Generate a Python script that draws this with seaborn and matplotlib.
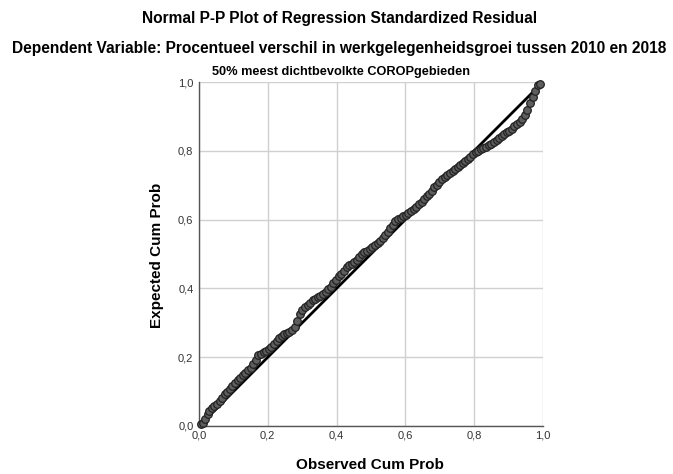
import matplotlib
matplotlib.use("Agg")
import matplotlib.pyplot as plt
import seaborn as sns
import pandas as pd
from matplotlib.ticker import FuncFormatter

observed = [0.005, 0.012, 0.018, 0.025, 0.030, 0.037, 0.045, 0.052, 0.060, 0.068,
            0.075, 0.082, 0.090, 0.097, 0.105, 0.112, 0.120, 0.128, 0.135, 0.143,
            0.150, 0.158, 0.165, 0.172, 0.180, 0.188, 0.195, 0.203, 0.210, 0.218,
            0.226, 0.233, 0.241, 0.248, 0.256, 0.263, 0.271, 0.278, 0.286, 0.293,
            0.300, 0.308, 0.316, 0.323, 0.331, 0.338, 0.346, 0.353, 0.361, 0.368,
            0.376, 0.383, 0.391, 0.398, 0.406, 0.414, 0.421, 0.429, 0.436, 0.444,
            0.451, 0.459, 0.466, 0.474, 0.481, 0.489, 0.496, 0.504, 0.511, 0.519,
            0.526, 0.534, 0.541, 0.549, 0.556, 0.564, 0.571, 0.579, 0.586, 0.594,
            0.601, 0.609, 0.617, 0.624, 0.632, 0.639, 0.647, 0.654, 0.662, 0.669,
            0.677, 0.684, 0.692, 0.699, 0.707, 0.714, 0.722, 0.729, 0.737, 0.744,
            0.752, 0.759, 0.767, 0.774, 0.782, 0.789, 0.797, 0.805, 0.812, 0.820,
            0.827, 0.835, 0.842, 0.850, 0.857, 0.865, 0.872, 0.880, 0.887, 0.895,
            0.902, 0.910, 0.917, 0.925, 0.932, 0.940, 0.947, 0.955, 0.962, 0.970,
            0.977, 0.985, 0.992]
expected = [0.005, 0.010, 0.020, 0.035, 0.045, 0.052, 0.058, 0.065, 0.072, 0.082,
            0.092, 0.100, 0.108, 0.115, 0.125, 0.133, 0.140, 0.148, 0.155, 0.162,
            0.170, 0.180, 0.192, 0.205, 0.210, 0.215, 0.218, 0.223, 0.230, 0.238,
            0.248, 0.256, 0.262, 0.266, 0.270, 0.274, 0.280, 0.288, 0.305, 0.325,
            0.338, 0.346, 0.352, 0.358, 0.365, 0.370, 0.374, 0.378, 0.385, 0.390,
            0.398, 0.405, 0.415, 0.425, 0.435, 0.443, 0.452, 0.462, 0.468, 0.472,
            0.476, 0.482, 0.490, 0.500, 0.505, 0.510, 0.515, 0.520, 0.526, 0.532,
            0.538, 0.546, 0.555, 0.565, 0.575, 0.585, 0.595, 0.602, 0.606, 0.610,
            0.614, 0.620, 0.624, 0.630, 0.636, 0.644, 0.652, 0.660, 0.668, 0.675,
            0.684, 0.694, 0.702, 0.710, 0.718, 0.724, 0.730, 0.736, 0.742, 0.748,
            0.753, 0.758, 0.764, 0.770, 0.776, 0.783, 0.790, 0.796, 0.800, 0.804,
            0.808, 0.812, 0.816, 0.820, 0.826, 0.832, 0.838, 0.843, 0.848, 0.854,
            0.858, 0.864, 0.872, 0.878, 0.884, 0.892, 0.905, 0.920, 0.940, 0.955,
            0.975, 0.990, 0.995]
ref_line = [0.0, 1.0]
ticks = [0.0, 0.2, 0.4, 0.6, 0.8, 1.0]

title1 = "Normal P-P Plot of Regression Standardized Residual"
title2 = "Dependent Variable: Procentueel verschil in werkgelegenheidsgroei tussen 2010 en 2018"
subtitle = "50% meest dichtbevolkte COROPgebieden"
xlabel = "Observed Cum Prob"
ylabel = "Expected Cum Prob"

sns.set_theme(style="white")
plt.rcParams['font.family'] = ['Liberation Sans', 'DejaVu Sans']
plt.rcParams['text.color'] = 'black'

fig = plt.figure(figsize=(6.73, 4.74), dpi=100)
ax = fig.add_axes([0.2957, 0.1013, 0.5111, 0.7257])

df = pd.DataFrame({"obs": observed, "exp": expected})
line_df = pd.DataFrame({"x": ref_line, "y": ref_line})

sns.lineplot(data=line_df, x="x", y="y", ax=ax, color="black", linewidth=2.0, zorder=3)
sns.scatterplot(data=df, x="obs", y="exp", ax=ax, s=30, color="#5e5e5e",
                edgecolor="#222222", linewidth=0.9, zorder=4, clip_on=False)

ax.set_xlim(0, 1)
ax.set_ylim(0, 1)
ax.set_xticks(ticks)
ax.set_yticks(ticks)
fmt = FuncFormatter(lambda v, p: f"{v:.1f}".replace(".", ","))
ax.xaxis.set_major_formatter(fmt)
ax.yaxis.set_major_formatter(fmt)
ax.tick_params(axis="both", labelsize=8, colors="#333333", length=0)
ax.tick_params(axis="x", pad=3)
ax.tick_params(axis="y", pad=4)
ax.grid(True, color="#d0d0d0", linewidth=1.0)
ax.set_axisbelow(True)
for s in ["top", "right"]:
    ax.spines[s].set_visible(False)
for s in ["left", "bottom"]:
    ax.spines[s].set_color("#555555")
    ax.spines[s].set_linewidth(1.0)

ax.set_xlabel("")
ax.set_ylabel("")
fig.text(370 / 673, 1 - 465 / 474, xlabel, ha="center", va="center",
         fontsize=11, fontweight="bold", color="black")
fig.text(157 / 673, 1 - 255 / 474, ylabel, ha="center", va="center",
         fontsize=11, fontweight="bold", rotation=90, color="black")
fig.text(341 / 673, 1 - 72 / 474, subtitle, ha="center", va="center",
         fontsize=9.2, fontweight="bold", color="black")

fig.text(340 / 673, 1 - 18 / 474, title1, ha="center", va="center",
         fontsize=11.2, fontweight="bold", color="black")
fig.text(339 / 673, 1 - 48 / 474, title2, ha="center", va="center",
         fontsize=11.2, fontweight="bold", color="black")

fig.savefig("out.png", dpi=100)
